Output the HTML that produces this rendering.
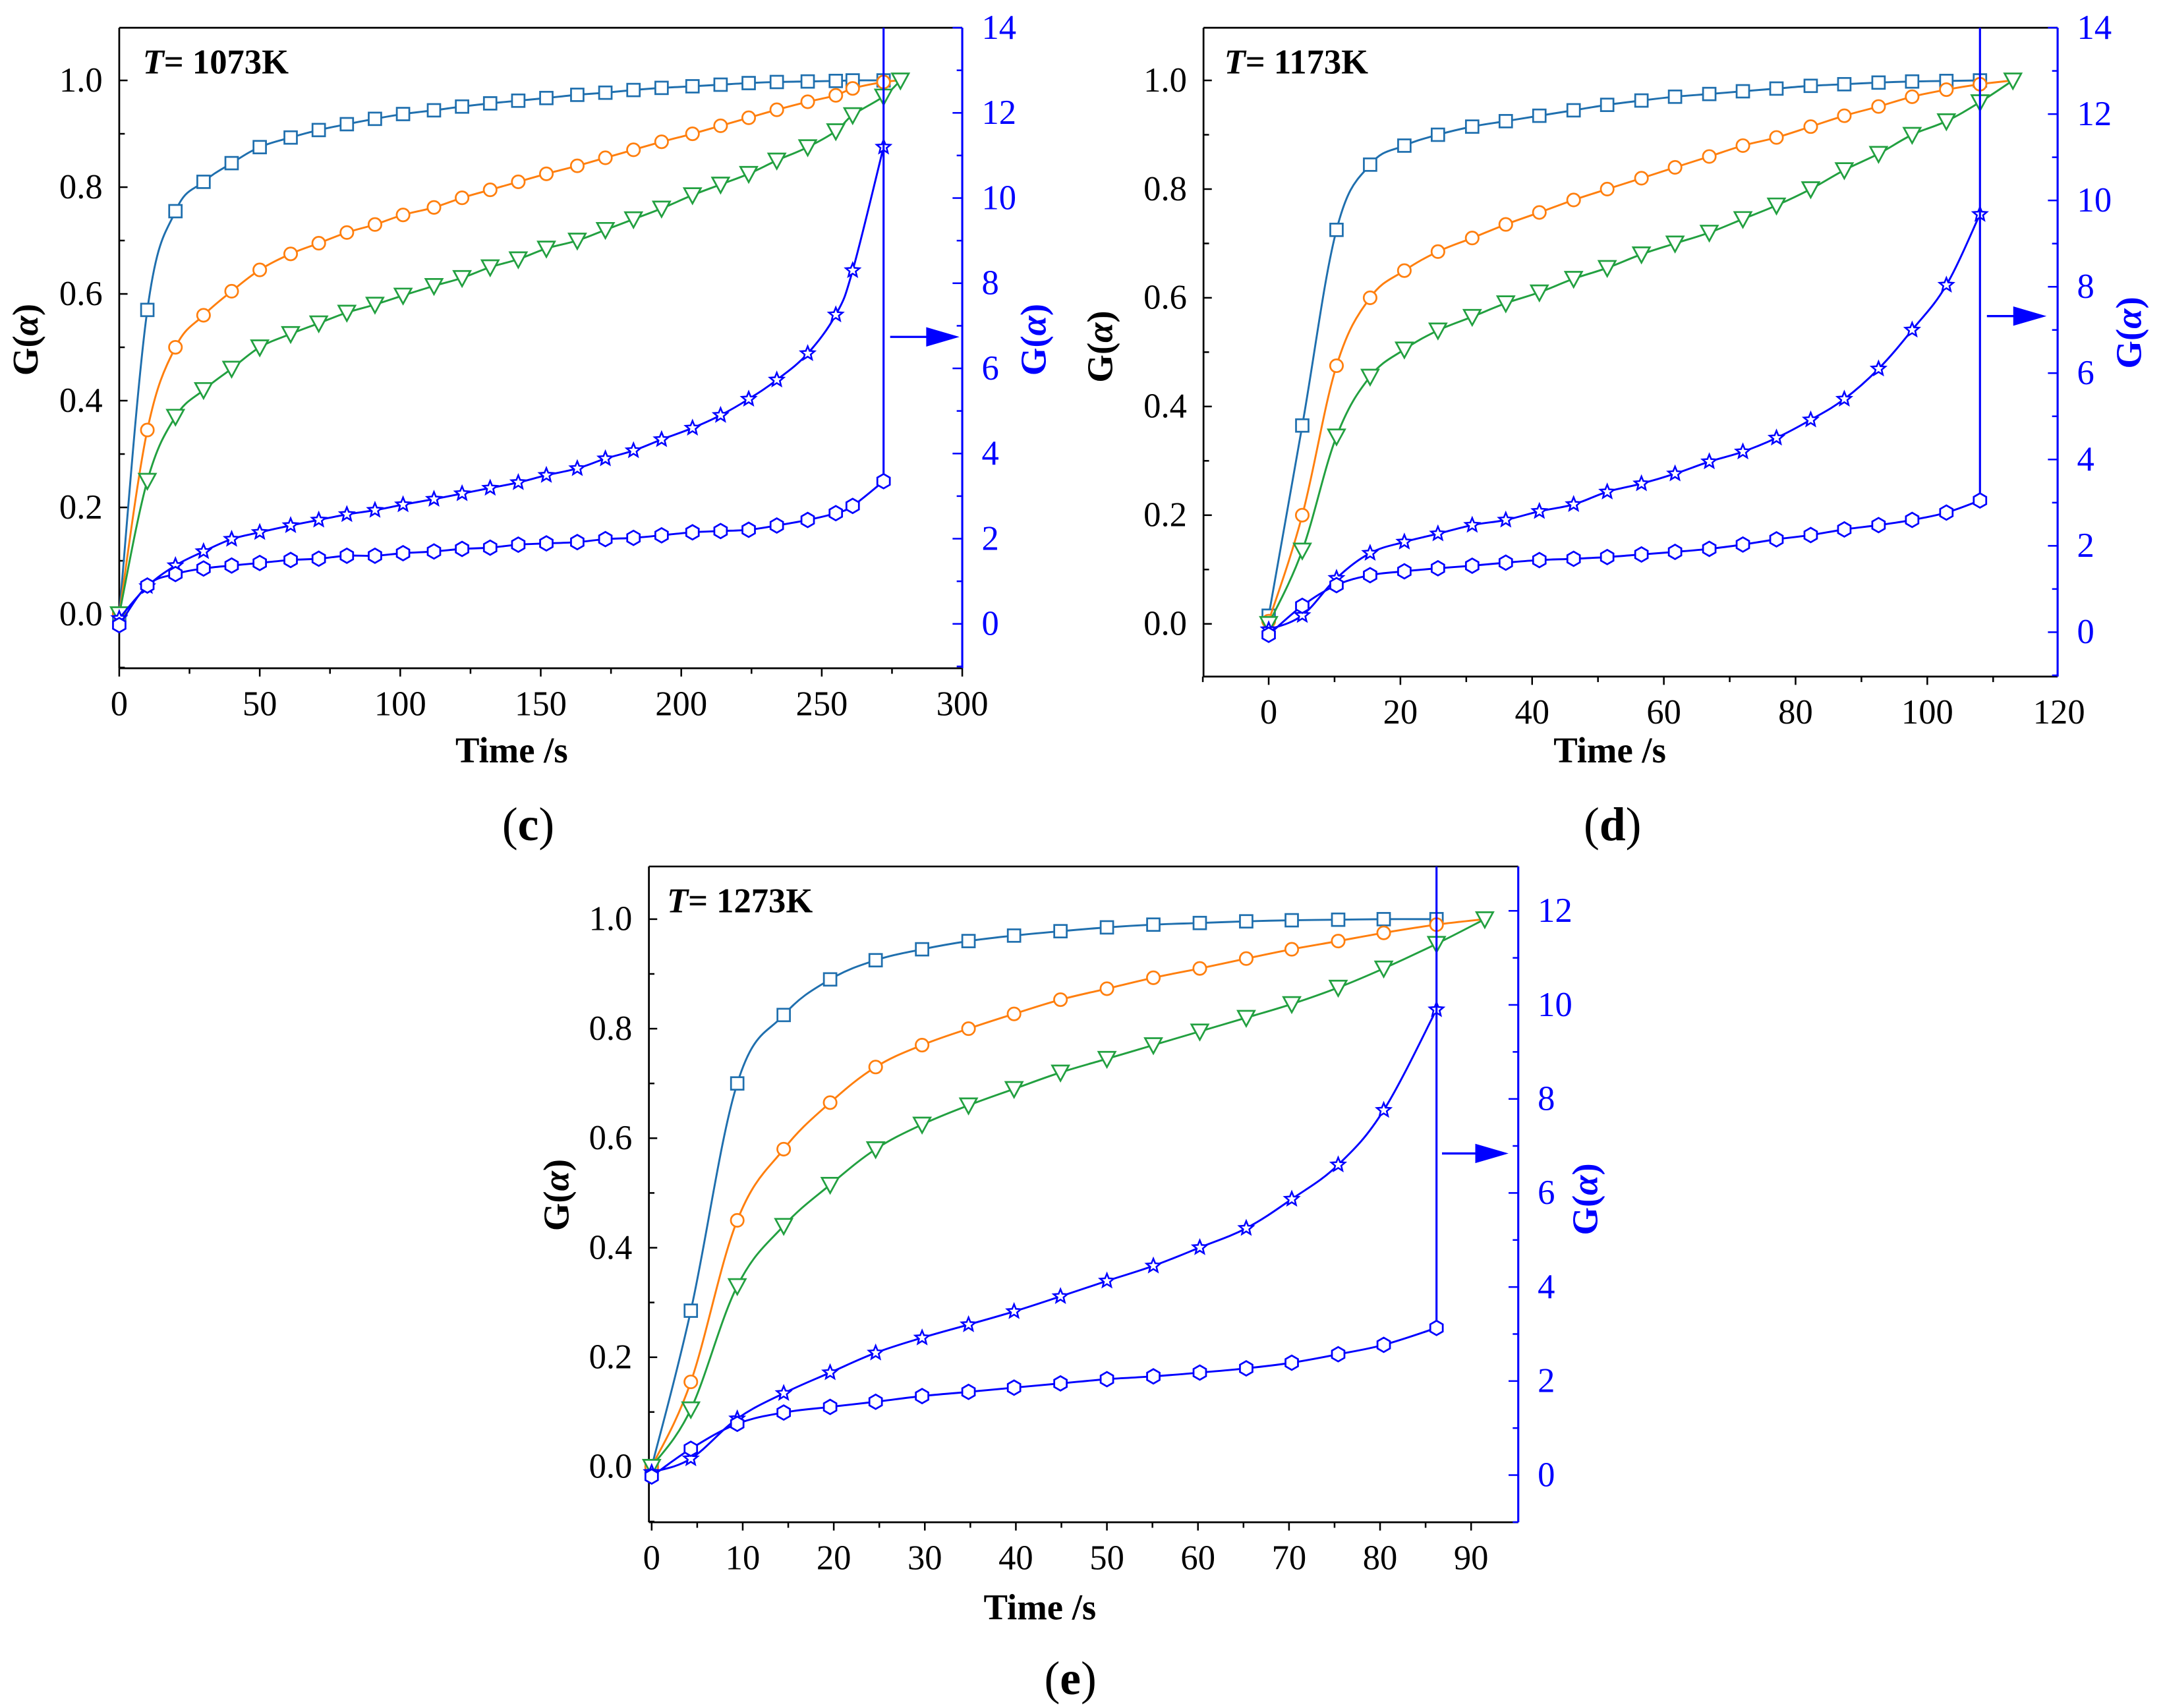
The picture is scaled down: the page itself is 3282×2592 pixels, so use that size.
<!DOCTYPE html>
<html><head><meta charset="utf-8">
<style>
html,body{margin:0;padding:0;background:#fff;}
svg{display:block;font-family:"Liberation Serif","Times New Roman",Times,"Nimbus Roman","DejaVu Serif",serif;}
svg text{font-family:"Liberation Serif","Times New Roman",Times,"Nimbus Roman","DejaVu Serif",serif;}
</style></head>
<body>
<svg id="fig" xmlns="http://www.w3.org/2000/svg" width="3282" height="2592" viewBox="0 0 1560 1232" preserveAspectRatio="none">
<rect x="0" y="0" width="1560" height="1232" fill="#fff"/>
</svg>
<script>
// ---------- Panel (c) data, T=1073K ----------
const cTime = [0,10,20,30,40,50,61,71,81,91,101,112,122,132,142,152,163,173,183,193,204,214,224,234,245,255,261,272];
const cSquare = [0,0.57,0.755,0.81,0.845,0.875,0.893,0.907,0.918,0.928,0.937,0.944,0.951,0.957,0.962,0.967,0.973,0.977,0.982,0.986,0.989,0.992,0.995,0.997,0.998,0.999,1.0,1.0];
const cOrange = [0,0.345,0.50,0.56,0.605,0.645,0.675,0.695,0.715,0.73,0.748,0.762,0.78,0.795,0.81,0.825,0.84,0.855,0.87,0.885,0.90,0.915,0.93,0.945,0.96,0.972,0.985,0.997];
const cGreen = [0,0.25,0.37,0.42,0.46,0.50,0.525,0.545,0.565,0.58,0.597,0.615,0.63,0.65,0.665,0.685,0.70,0.72,0.74,0.76,0.785,0.805,0.825,0.85,0.875,0.905,0.935,0.97];
const cStar = [0.13,0.88,1.37,1.7,1.99,2.15,2.31,2.44,2.57,2.67,2.8,2.93,3.06,3.19,3.32,3.49,3.65,3.88,4.07,4.33,4.6,4.9,5.28,5.73,6.35,7.26,8.3,11.2];
const cHex = [-0.03,0.9,1.17,1.3,1.37,1.43,1.5,1.53,1.6,1.6,1.66,1.7,1.76,1.79,1.86,1.89,1.92,1.99,2.02,2.08,2.15,2.18,2.21,2.31,2.44,2.6,2.77,3.35];
const cEndTime = 278;
const cXTicks = [0,50,100,150,200,250,300];
const cYTicks = [0.0,0.2,0.4,0.6,0.8,1.0];
const cRTicks = [0,2,4,6,8,10,12,14];

// ---------- Panel (d) data, T=1173K ----------
const dTime = [0,5.1,10.3,15.4,20.6,25.7,30.9,36,41.1,46.3,51.4,56.6,61.7,66.9,72,77.1,82.3,87.4,92.6,97.7,102.9,108];
const dSquare = [0.015,0.365,0.725,0.845,0.88,0.9,0.915,0.925,0.935,0.945,0.955,0.963,0.97,0.975,0.98,0.985,0.99,0.993,0.996,0.998,0.999,1.0];
const dOrange = [0.005,0.20,0.475,0.60,0.65,0.685,0.71,0.735,0.757,0.78,0.80,0.82,0.84,0.86,0.88,0.895,0.915,0.935,0.952,0.97,0.983,0.993];
const dGreen = [0,0.135,0.345,0.455,0.505,0.54,0.565,0.59,0.61,0.635,0.655,0.68,0.70,0.72,0.745,0.77,0.80,0.835,0.865,0.90,0.925,0.96];
const dStar = [0.06,0.39,1.25,1.83,2.09,2.28,2.48,2.6,2.8,2.96,3.25,3.44,3.67,3.95,4.18,4.5,4.92,5.4,6.1,7.0,8.04,9.68];
const dHex = [-0.06,0.61,1.09,1.32,1.41,1.48,1.54,1.61,1.67,1.7,1.74,1.8,1.86,1.93,2.03,2.15,2.25,2.38,2.48,2.6,2.77,3.05];
const dEndTime = 113;
const dXTicks = [0,20,40,60,80,100,120];
const dYTicks = [0.0,0.2,0.4,0.6,0.8,1.0];
const dRTicks = [0,2,4,6,8,10,12,14];

// ---------- Panel (e) data, T=1273K ----------
const eTime = [0,4.3,9.4,14.5,19.6,24.6,29.7,34.8,39.8,44.9,50,55.1,60.2,65.3,70.3,75.4,80.4,86.2];
const eSquare = [0,0.285,0.70,0.825,0.89,0.925,0.945,0.96,0.97,0.978,0.985,0.99,0.993,0.996,0.998,0.999,1.0,1.0];
const eOrange = [0,0.155,0.45,0.58,0.665,0.73,0.77,0.80,0.827,0.853,0.873,0.893,0.91,0.928,0.945,0.96,0.975,0.99];
const eGreen = [0,0.105,0.33,0.44,0.515,0.58,0.625,0.66,0.69,0.72,0.745,0.77,0.795,0.82,0.845,0.875,0.91,0.955];
const eStar = [0.06,0.35,1.2,1.74,2.18,2.6,2.92,3.2,3.48,3.8,4.13,4.45,4.84,5.25,5.87,6.6,7.76,9.9];
const eHex = [-0.03,0.56,1.09,1.33,1.45,1.56,1.68,1.77,1.86,1.95,2.04,2.1,2.18,2.27,2.39,2.57,2.77,3.13];
const eEndTime = 91.5;
const eXTicks = [0,10,20,30,40,50,60,70,80,90];
const eYTicks = [0.0,0.2,0.4,0.6,0.8,1.0];
const eRTicks = [0,2,4,6,8,10,12];

const NS = "http://www.w3.org/2000/svg";
const FONT = '"Liberation Serif", "Times New Roman", Times, "Nimbus Roman", "DejaVu Serif", serif';
const svg = document.getElementById('fig');
const C_SQ = "#1f6fae", C_OR = "#ff7f0e", C_GR = "#22a040", C_BL = "#0000ff";

function mk(tag, attrs, parent){
  const e = document.createElementNS(NS, tag);
  for (const k in attrs) e.setAttribute(k, attrs[k]);
  if (tag==='text') e.setAttribute('font-family', FONT);
  (parent||svg).appendChild(e);
  return e;
}
function smoothPath(pts){
  let d = "M"+pts[0][0]+","+pts[0][1];
  for (let i=0;i<pts.length-1;i++){
    const p0=pts[Math.max(0,i-1)], p1=pts[i], p2=pts[i+1], p3=pts[Math.min(pts.length-1,i+2)];
    const t=0.18;
    const c1=[p1[0]+(p2[0]-p0[0])*t, p1[1]+(p2[1]-p0[1])*t];
    const c2=[p2[0]-(p3[0]-p1[0])*t, p2[1]-(p3[1]-p1[1])*t];
    d+=" C"+c1[0]+","+c1[1]+" "+c2[0]+","+c2[1]+" "+p2[0]+","+p2[1];
  }
  return d;
}
function marker(g, type, x, y, color){
  let e;
  if (type==='square'){ e = mk('rect',{x:x-4.5,y:y-4.5,width:9,height:9,fill:'#fff',stroke:color,'stroke-width':1.3},g); }
  else if (type==='circle'){ e = mk('circle',{cx:x,cy:y,r:4.6,fill:'#fff',stroke:color,'stroke-width':1.3},g); }
  else if (type==='tri'){ e = mk('polygon',{points:(x-6)+","+(y-5)+" "+(x+6)+","+(y-5)+" "+x+","+(y+6),fill:'#fff',stroke:color,'stroke-width':1.3},g); }
  else if (type==='hex'){
    let p=[]; for(let k=0;k<6;k++){const a=Math.PI/3*k+Math.PI/6; p.push((x+5.2*Math.cos(a))+","+(y+5.2*Math.sin(a)));}
    e = mk('polygon',{points:p.join(" "),fill:'#fff',stroke:color,'stroke-width':1.3},g);
  } else {
    let p=[]; for(let k=0;k<10;k++){const a=-Math.PI/2+Math.PI/5*k; const r=k%2?2.3:5.2; p.push((x+r*Math.cos(a))+","+(y+r*Math.sin(a)));}
    e = mk('polygon',{points:p.join(" "),fill:'#fff',stroke:color,'stroke-width':1.2},g);
  }
  
  
}

function panel(P){
  const g = mk('g',{});
  
  
  const X = v => P.x0px + (v - P.xd[0])*(P.x1px-P.x0px)/(P.xd[1]-P.xd[0]);
  const YL = v => P.yl0px + v*(P.yl1px-P.yl0px);
  const YR = v => P.yr0px + v*(P.yr1px-P.yr0px)/P.yrMax;
  const L=P.left,R=P.right,T=P.top,B=P.bottom;
  mk('line',{x1:L,y1:T,x2:R,y2:T,stroke:'#000','stroke-width':1.3},g);
  const la = mk('line',{x1:L,y1:T,x2:L,y2:B,stroke:'#000','stroke-width':1.3},g);
   
  const ba = mk('line',{x1:L,y1:B,x2:R,y2:B,stroke:'#000','stroke-width':1.3},g);
   
  const ra = mk('line',{x1:R,y1:T,x2:R,y2:B,stroke:C_BL,'stroke-width':1.5},g);
   
  const xs = P.xTicks, step = xs[1]-xs[0];
  for (let v = xs[0]-step; v <= xs[xs.length-1]; v += step/2){
    const x = X(v); if (x < L-0.5 || x > R+0.5) continue;
    const major = Math.abs((v - xs[0])/step - Math.round((v-xs[0])/step))<1e-6;
    mk('line',{x1:x,y1:B,x2:x,y2:B+(major?6:4),stroke:'#000','stroke-width':1.2},g);
  }
  xs.forEach(v=>{
    const t = mk('text',{x:X(v),y:B+34,'font-size':25,'text-anchor':'middle'},g);
    t.textContent = v;
     
  });
  for (let k=-1;k<=11;k++){
    const v=k/10, y=YL(v); if (y<T||y>B) continue;
    mk('line',{x1:L,y1:y,x2:L+(k%2===0?6:4),y2:y,stroke:'#000','stroke-width':1.2},g);
  }
  P.yTicks.forEach(v=>{
    const t = mk('text',{x:L-12,y:YL(v)+8,'font-size':25,'text-anchor':'end'},g);
    t.textContent = v.toFixed(1);
     
  });
  for (let v=-1; v<=P.yrMax; v++){
    const y=YR(v); if (y<T-0.5||y>B+0.5) continue;
    mk('line',{x1:R,y1:y,x2:R-(v%2===0?7:4),y2:y,stroke:C_BL,'stroke-width':1.2},g);
  }
  P.rTicks.forEach(v=>{
    const t = mk('text',{x:R+14,y:YR(v)+8,'font-size':25,fill:C_BL},g);
    t.textContent = v;
     
  });
  function series(name, times, vals, endT, endV, color, type, axis){
    const Y = axis==='L'?YL:YR;
    const pts = times.map((t,i)=>[X(t),Y(vals[i])]);
    if (endT!==null) pts.push([X(endT),Y(endV)]);
    const sg = mk('g',{},g);
     
    mk('path',{d:smoothPath(pts),fill:'none',stroke:color,'stroke-width':1.4},sg);
    const n = times.length + (endT!==null && type==='tri' ? 1 : 0);
    for (let i=0;i<n;i++) marker(sg,type,pts[i][0],pts[i][1],color);
  }
  series('square',P.t,P.sq,null,null,C_SQ,'square','L');
  series('circle',P.t,P.or,P.endT,1.0,C_OR,'circle','L');
  series('triangle',P.t,P.gr,P.endT,1.0,C_GR,'tri','L');
  series('star',P.t,P.st,null,null,C_BL,'star','R');
  series('hexagon',P.t,P.hx,null,null,C_BL,'hex','R');
  const lastT = P.t[P.t.length-1];
  const vl = mk('line',{x1:X(lastT),y1:T,x2:X(lastT),y2:YR(P.hx[P.hx.length-1])-5,stroke:C_BL,'stroke-width':1.5},g);
   
  const ag = mk('g',{},g);
   
  mk('line',{x1:P.arrow[0],y1:P.arrow[2],x2:P.arrow[1]-18,y2:P.arrow[2],stroke:C_BL,'stroke-width':1.6},ag);
  mk('polygon',{points:(P.arrow[1]-24)+","+(P.arrow[2]-7)+" "+P.arrow[1]+","+P.arrow[2]+" "+(P.arrow[1]-24)+","+(P.arrow[2]+7),fill:C_BL},ag);
  const tt = mk('text',{x:P.title[0],y:P.title[1],'font-size':25,'font-weight':'bold'},g);
  tt.innerHTML = '<tspan font-style="italic">T</tspan>= '+P.temp;
   
  const xt = mk('text',{x:P.xTitle[0],y:P.xTitle[1],'font-size':26,'font-weight':'bold','text-anchor':'middle'},g);
  xt.textContent='Time /s';
   
  const ly = mk('text',{transform:'translate('+P.lyTitle[0]+','+P.lyTitle[1]+') rotate(-90)','font-size':26,'font-weight':'bold','text-anchor':'middle'},g);
  ly.innerHTML='G(<tspan font-style="italic">α</tspan>)';
   
  const ry = mk('text',{transform:'translate('+P.ryTitle[0]+','+P.ryTitle[1]+') rotate(-90)','font-size':26,'font-weight':'bold','text-anchor':'middle',fill:C_BL},g);
  ry.innerHTML='G(<tspan font-style="italic">α</tspan>)';
   
  const pl = mk('text',{x:P.lbl[0],y:P.lbl[1],'font-size':34,'text-anchor':'middle'},g);
  pl.innerHTML='(<tspan font-weight="bold">'+P.id+'</tspan>)';
   
}

panel({id:'c',temp:'1073K',left:86,right:694,top:20,bottom:482,xd:[0,300],x0px:86,x1px:694,
  yl0px:443,yl1px:58,yr0px:450,yr1px:20,yrMax:14,
  t:cTime,sq:cSquare,or:cOrange,gr:cGreen,st:cStar,hx:cHex,endT:cEndTime,
  xTicks:cXTicks,yTicks:cYTicks,rTicks:cRTicks,arrow:[642,692,243],
  title:[103,53],xTitle:[369,550],lyTitle:[27,245],ryTitle:[754,245],lbl:[381,606]});
panel({id:'d',temp:'1173K',left:868,right:1484,top:20,bottom:488,xd:[0,120],x0px:915,x1px:1485,
  yl0px:450,yl1px:58,yr0px:456,yr1px:20,yrMax:14,
  t:dTime,sq:dSquare,or:dOrange,gr:dGreen,st:dStar,hx:dHex,endT:dEndTime,
  xTicks:dXTicks,yTicks:dYTicks,rTicks:dRTicks,arrow:[1433,1476,228],
  title:[883,53],xTitle:[1161,550],lyTitle:[802,250],ryTitle:[1544,240],lbl:[1163,606]});
panel({id:'e',temp:'1273K',left:468,right:1095,top:625,bottom:1098,xd:[0,90],x0px:470,x1px:1061,
  yl0px:1058,yl1px:663,yr0px:1064,yr1px:657,yrMax:12,
  t:eTime,sq:eSquare,or:eOrange,gr:eGreen,st:eStar,hx:eHex,endT:eEndTime,
  xTicks:eXTicks,yTicks:eYTicks,rTicks:eRTicks,arrow:[1040,1088,832],
  title:[481,658],xTitle:[750,1168],lyTitle:[410,862],ryTitle:[1152,865],lbl:[772,1222]});
</script>
</body></html>
